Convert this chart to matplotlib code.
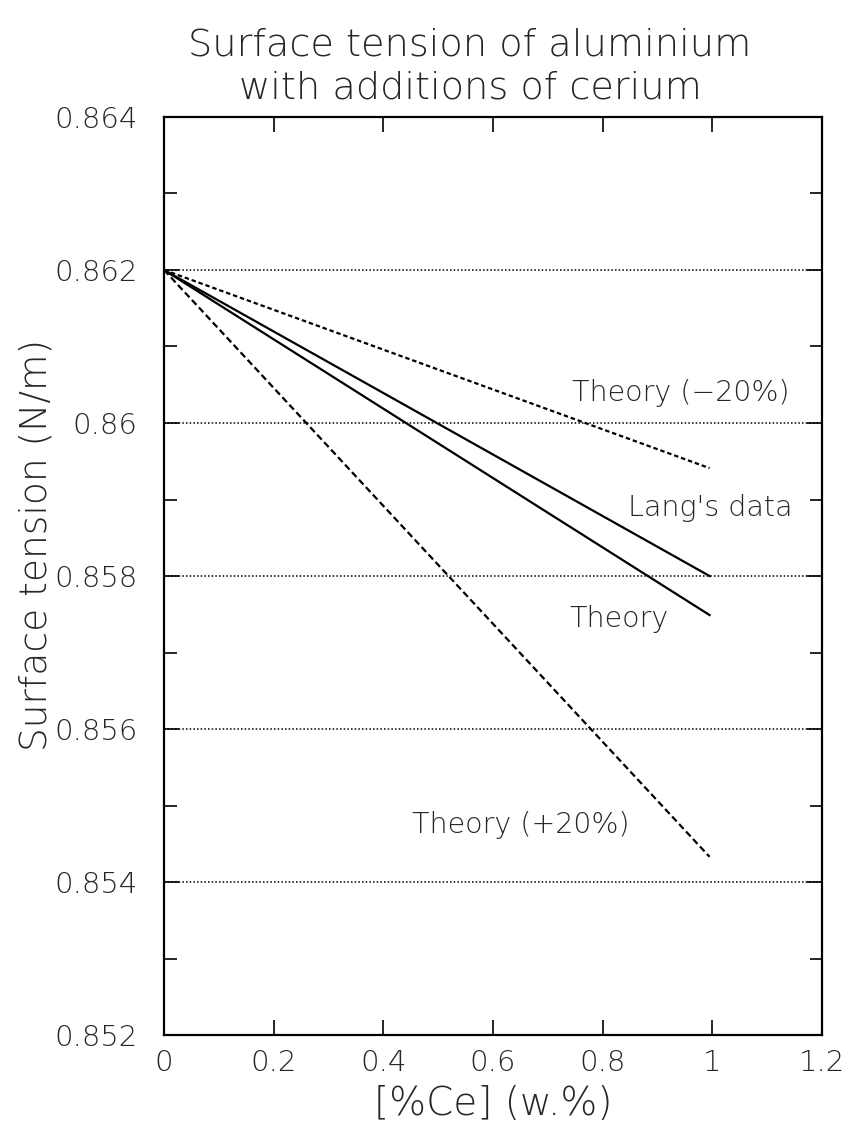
import matplotlib
matplotlib.use("Agg")
import matplotlib.pyplot as plt
from matplotlib.ticker import MultipleLocator, FixedLocator

plt.rcParams['font.family'] = ['DejaVu Sans']

# Cerium content (w.%) and surface tension (N/m) for each curve
ce_wt = [0.0, 0.995]
st_theory_minus20 = [0.862, 0.85941]
st_lang = [0.862, 0.85800]
st_theory = [0.862, 0.85749]
st_theory_plus20 = [0.862, 0.85433]

x_ticks = [0, 0.2, 0.4, 0.6, 0.8, 1.0, 1.2]
x_tick_labels = ["0", "0.2", "0.4", "0.6", "0.8", "1", "1.2"]
y_ticks = [0.852, 0.854, 0.856, 0.858, 0.860, 0.862, 0.864]
y_tick_labels = ["0.852", "0.854", "0.856", "0.858", "0.86", "0.862", "0.864"]
grid_levels = [0.854, 0.856, 0.858, 0.860, 0.862]

txt = "#262626"
fw = "light"

fig = plt.figure(figsize=(8.5, 11.28), dpi=100)
ax = fig.add_axes([0.193, 0.0824, 0.774, 0.8139])

ax.set_xlim(0, 1.2)
ax.set_ylim(0.852, 0.864)

for g in grid_levels:
    ax.axhline(g, color="black", lw=1.1, ls=(0, (1, 1.4)), zorder=1)

ax.plot(ce_wt, st_theory_minus20, color="black", lw=1.6, ls=(0, (2.0, 1.3)), zorder=3)
ax.plot(ce_wt, st_lang, color="black", lw=1.6, ls="-", zorder=3)
ax.plot(ce_wt, st_theory, color="black", lw=1.6, ls="-", zorder=3)
ax.plot(ce_wt, st_theory_plus20, color="black", lw=1.6, ls=(0, (3.0, 1.6)), zorder=3)

ax.xaxis.set_major_locator(FixedLocator(x_ticks))
ax.set_xticklabels(x_tick_labels)
ax.yaxis.set_major_locator(FixedLocator(y_ticks))
ax.set_yticklabels(y_tick_labels)
ax.yaxis.set_minor_locator(MultipleLocator(0.001))

ax.tick_params(which="both", direction="in", top=True, right=True,
               width=1.2, colors="black", labelcolor=txt)
ax.tick_params(which="major", length=11, labelsize=21)
ax.tick_params(axis="x", which="major", pad=10)
ax.tick_params(axis="y", which="major", pad=19)
ax.tick_params(which="minor", length=9)
for lab in ax.get_xticklabels() + ax.get_yticklabels():
    lab.set_fontweight(fw)

for s in ax.spines.values():
    s.set_linewidth(1.6)

ax.set_ylabel("Surface tension (N/m)", fontsize=27, color=txt, fontweight=fw)
ax.yaxis.set_label_coords(-0.168, 0.534)
ax.set_xlabel("[%Ce] (w.%)", fontsize=28, color=txt, fontweight=fw, labelpad=6)

fig.text(0.553, 0.960, "Surface tension of aluminium", ha="center", va="center",
         fontsize=27.5, color=txt, fontweight=fw)
fig.text(0.553, 0.922, "with additions of cerium", ha="center", va="center",
         fontsize=27.5, color=txt, fontweight=fw)

lab_fs = 20.5
ax.text(0.942, 0.86039, "Theory (\u221220%)", ha="center", va="center",
        fontsize=lab_fs, color=txt, fontweight=fw)
ax.text(0.996, 0.85889, "Lang's data", ha="center", va="center",
        fontsize=lab_fs, color=txt, fontweight=fw)
ax.text(0.830, 0.85744, "Theory", ha="center", va="center",
        fontsize=lab_fs, color=txt, fontweight=fw)
ax.text(0.650, 0.85475, "Theory (+20%)", ha="center", va="center",
        fontsize=lab_fs, color=txt, fontweight=fw)

fig.savefig("out.png", dpi=100, facecolor="white")
